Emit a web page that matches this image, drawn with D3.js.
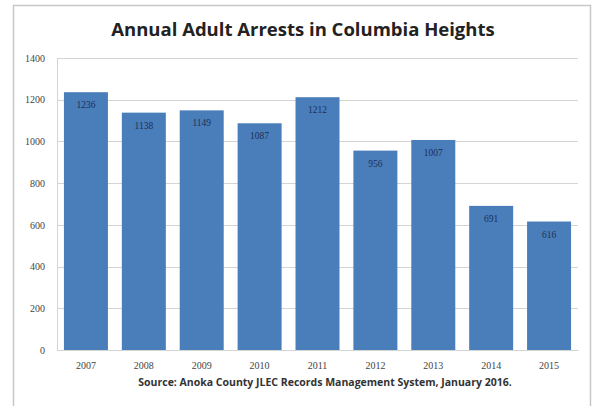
<!DOCTYPE html>
<html>
<head>
<meta charset="utf-8">
<script src="https://cdn.jsdelivr.net/npm/d3@7"></script>
<style>
  body { margin: 0; background: #fff; }
  svg { display: block; }
</style>
</head>
<body>
<div id="chart"></div>
<script>
// chart data
const years = ["2007", "2008", "2009", "2010", "2011", "2012", "2013", "2014", "2015"];
const arrests = [1236, 1138, 1149, 1087, 1212, 956, 1007, 691, 616];
const yTicks = [0, 200, 400, 600, 800, 1000, 1200, 1400];

const W = 592, H = 406;
const margin = {left: 57, right: 14, top: 58, bottom: 56};
const width = W - margin.left - margin.right;
const height = H - margin.top - margin.bottom;

const svg = d3.select("#chart")
    .append("svg")
    .attr("width", W)
    .attr("height", H);

// outer frame of the chart image
svg.append("path")
    .attr("d", `M13.5,${H} V5.5 H590.5 V${H}`)
    .attr("fill", "none")
    .attr("stroke", "#c8c8c8")
    .attr("stroke-width", 1.5);

svg.append("text")
    .attr("x", 303)
    .attr("y", 36)
    .attr("text-anchor", "middle")
    .style("font-family", "'Open Sans', 'Noto Sans', sans-serif")
    .style("font-weight", "bold")
    .style("font-size", "18.5px")
    .attr("fill", "#222")
    .text("Annual Adult Arrests in Columbia Heights");

const g = svg.append("g")
    .attr("transform", `translate(${margin.left},${margin.top})`);

const xScale = d3.scaleBand()
    .domain(years)
    .range([0, width])
    .paddingInner(0.24)
    .paddingOuter(0.12);

const yScale = d3.scaleLinear()
    .domain([0, 1400])
    .range([height, 0]);

// gridlines
g.append("g")
    .selectAll("line")
    .data(yTicks)
    .join("line")
    .attr("x1", 0)
    .attr("x2", width)
    .attr("y1", d => Math.round(yScale(d)) + 0.5)
    .attr("y2", d => Math.round(yScale(d)) + 0.5)
    .attr("stroke", "#d4d4d4")
    .attr("stroke-width", 1);

// y axis
const yAxis = g.append("g")
    .call(d3.axisLeft(yScale).tickValues(yTicks).tickFormat(d3.format("d")).tickSize(0).tickPadding(12));
yAxis.select(".domain").attr("stroke", "#d4d4d4");
yAxis.selectAll("text")
    .style("font-family", "'Liberation Serif', serif")
    .style("font-size", "10px")
    .attr("fill", "#444");

// bars
g.selectAll(".bar")
    .data(years)
    .join("rect")
    .attr("class", "bar")
    .attr("x", d => xScale(d))
    .attr("width", xScale.bandwidth())
    .attr("y", (d, i) => yScale(arrests[i]))
    .attr("height", (d, i) => height - yScale(arrests[i]))
    .attr("fill", "#4a7ebb");

// value labels inside the bars
g.selectAll(".val")
    .data(years)
    .join("text")
    .attr("class", "val")
    .attr("x", d => xScale(d) + xScale.bandwidth() / 2)
    .attr("y", (d, i) => yScale(arrests[i]) + 16)
    .attr("text-anchor", "middle")
    .style("font-family", "'Liberation Serif', serif")
    .style("font-size", "9.5px")
    .attr("fill", "#1b2f55")
    .text((d, i) => arrests[i]);

// x axis
const xAxis = g.append("g")
    .attr("transform", `translate(0,${height})`)
    .call(d3.axisBottom(xScale).tickSize(0).tickPadding(12));
xAxis.select(".domain").attr("stroke", "#d4d4d4");
xAxis.selectAll("text")
    .style("font-family", "'Liberation Serif', serif")
    .style("font-size", "10px")
    .attr("fill", "#444");

svg.append("text")
    .attr("x", 325)
    .attr("y", 386)
    .attr("text-anchor", "middle")
    .style("font-family", "'Open Sans', 'Noto Sans', sans-serif")
    .style("font-weight", "bold")
    .style("font-size", "10.5px")
    .attr("fill", "#333")
    .text("Source: Anoka County JLEC Records Management System, January 2016.");
</script>
</body>
</html>
